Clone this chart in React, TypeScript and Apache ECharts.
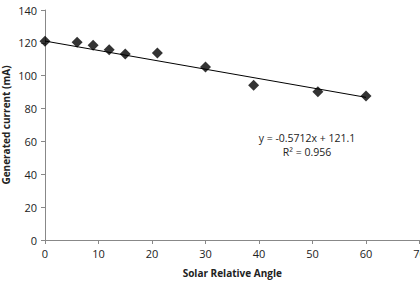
import React, { useEffect, useRef } from "react";
import * as echarts from "echarts";

const angles = [0, 6, 9, 12, 15, 21, 30, 39, 51, 60];
const currents = [121, 120.3, 118.5, 115.8, 113.2, 113.8, 105.3, 94.2, 90.3, 87.6];
const trendX = [0, 60];
const trendY = [121.1, 86.83];
const equationLines = ["y = -0.5712x + 121.1", "R² = 0.956"];
const xTitle = "Solar Relative Angle";
const yTitle = "Generated current (mA)";

const FONT = "'Open Sans', 'Noto Sans', sans-serif";

export default function App() {
  const ref = useRef<HTMLDivElement>(null);
  useEffect(() => {
    if (!ref.current) return;
    const chart = echarts.init(ref.current, null, { renderer: "svg" });
    chart.setOption({
      animation: false,
      backgroundColor: "#ffffff",
      grid: { left: 45, top: 10, right: 0.5, bottom: 50, containLabel: false, outerBoundsMode: "none" },
      xAxis: {
        type: "value",
        min: 0,
        max: 70,
        interval: 10,
        splitLine: { show: false },
        axisLine: { lineStyle: { color: "#888888", width: 1 } },
        axisTick: { show: true, length: 4, lineStyle: { color: "#888888" } },
        axisLabel: { color: "#222222", fontFamily: FONT, fontSize: 11, margin: 8 },
        name: xTitle,
        nameLocation: "middle",
        nameGap: 28,
        nameMoveOverlap: false,
        nameTextStyle: { color: "#222222", fontFamily: FONT, fontSize: 10, fontWeight: "bold" },
      },
      yAxis: {
        type: "value",
        min: 0,
        max: 140,
        interval: 20,
        splitLine: { show: false },
        axisLine: { show: true, lineStyle: { color: "#888888", width: 1 } },
        axisTick: { show: true, length: 4, lineStyle: { color: "#888888" } },
        axisLabel: { color: "#222222", fontFamily: FONT, fontSize: 11, margin: 8 },
        name: yTitle,
        nameLocation: "middle",
        nameGap: 34,
        nameMoveOverlap: false,
        nameTextStyle: { color: "#222222", fontFamily: FONT, fontSize: 10, fontWeight: "bold" },
      },
      series: [
        {
          type: "line",
          data: trendX.map((x, i) => [x, trendY[i]]),
          symbol: "none",
          lineStyle: { color: "#000000", width: 1 },
          z: 1,
        },
        {
          type: "scatter",
          data: angles.map((x, i) => [x, currents[i]]),
          symbol: "diamond",
          symbolSize: 11,
          itemStyle: { color: "#000000" },
          z: 2,
        },
      ],
      graphic: [
        {
          type: "text",
          x: 307,
          y: 138,
          style: {
            text: equationLines[0],
            fontFamily: FONT,
            fontSize: 10.5,
            fill: "#222222",
            textAlign: "center",
            textVerticalAlign: "middle",
          },
        },
        {
          type: "text",
          x: 307,
          y: 152,
          style: {
            text: equationLines[1],
            fontFamily: FONT,
            fontSize: 10.5,
            fill: "#222222",
            textAlign: "center",
            textVerticalAlign: "middle",
          },
        },
      ],
    });
    return () => chart.dispose();
  }, []);
  return <div ref={ref} style={{ width: 420, height: 290, position: "absolute", left: 0, top: 0 }} />;
}
